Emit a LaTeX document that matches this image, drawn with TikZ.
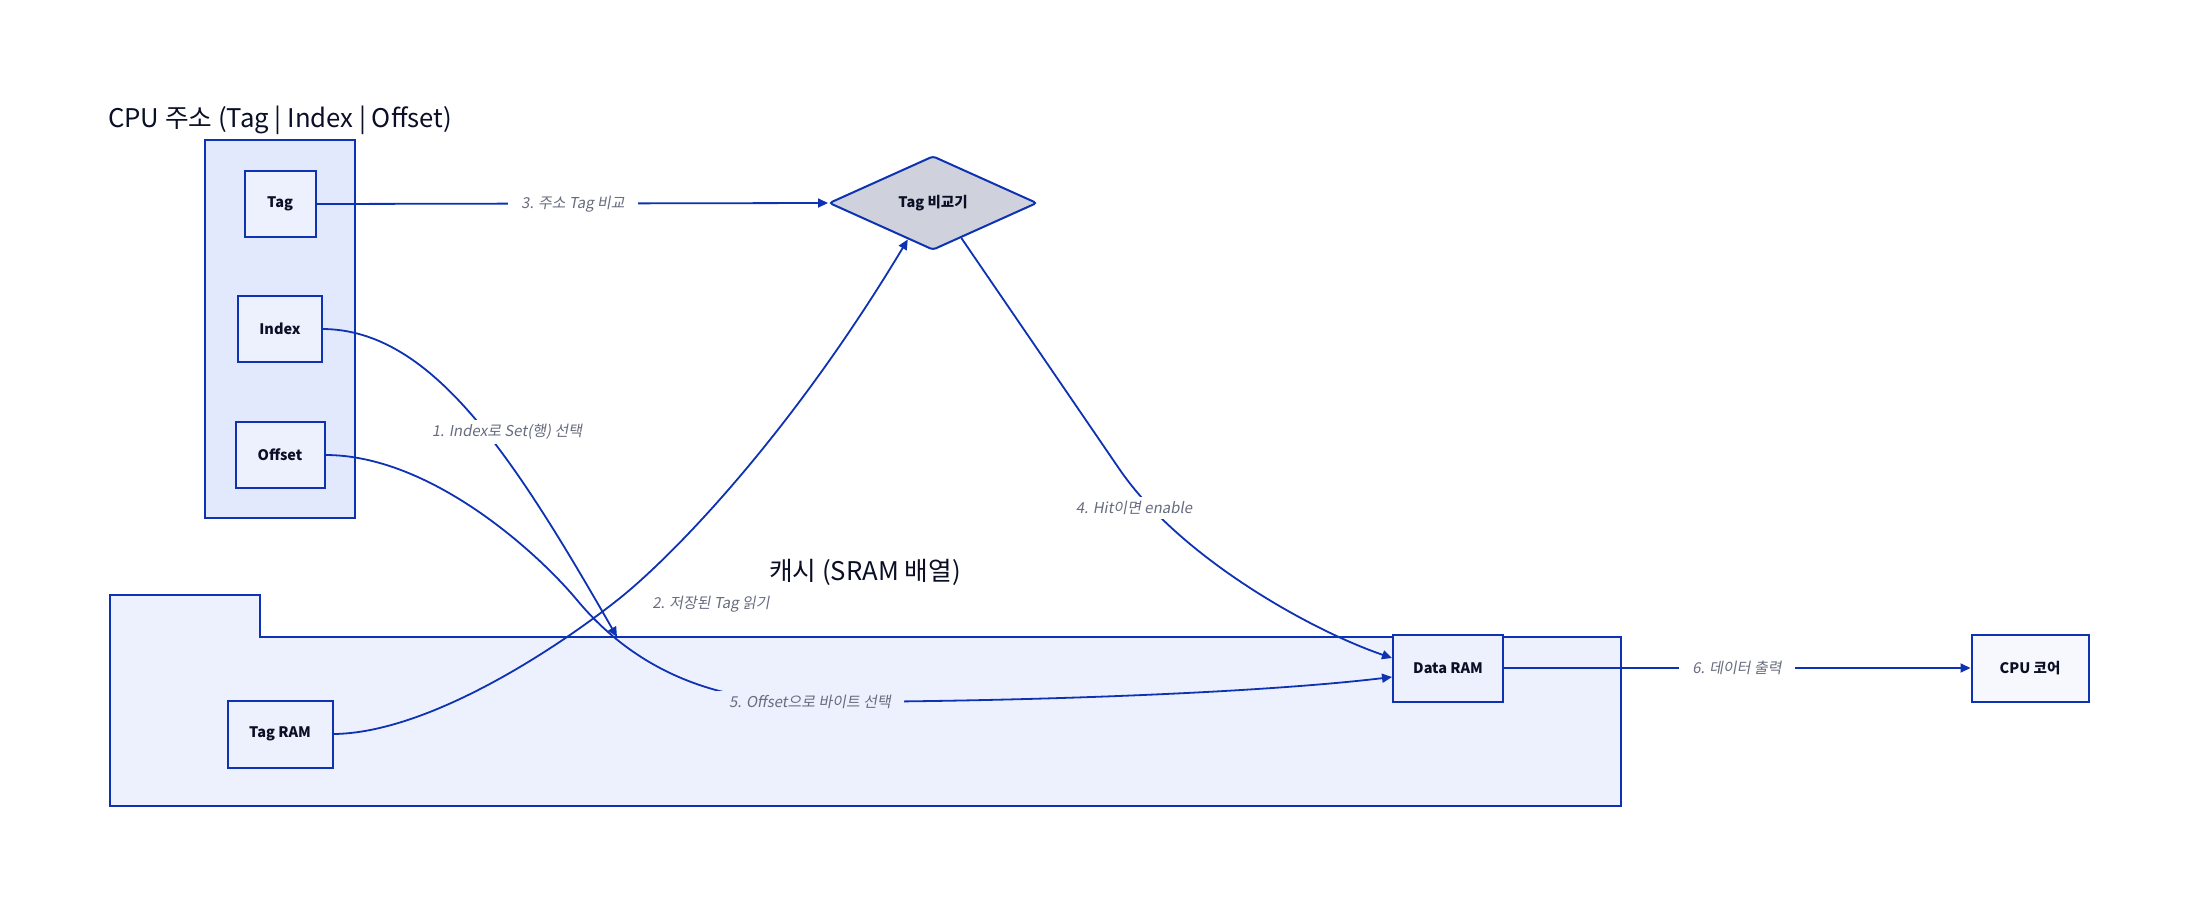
\documentclass[tikz,border=0pt]{standalone}
\usepackage{fontspec}
\setmainfont{Noto Sans CJK KR}
\newfontfamily\labfont{Noto Sans CJK KR}[FakeSlant=0.18]
\usetikzlibrary{shapes.geometric,arrows.meta,calc}
\definecolor{strokeb}{HTML}{0D32B2}
\definecolor{contA}{HTML}{E3E9FD}
\definecolor{contB}{HTML}{EDF0FD}
\definecolor{boxfill}{HTML}{EDF0FD}
\definecolor{corefill}{HTML}{F7F8FE}
\definecolor{diafill}{HTML}{CFD2DD}
\definecolor{labgray}{HTML}{676C7E}
\definecolor{txt}{HTML}{0A0F25}
\tikzset{
  box/.style={draw=strokeb, line width=2bp, fill=boxfill, inner sep=0pt, text=txt,
    font=\fontsize{14.5bp}{17bp}\selectfont\bfseries},
  cont/.style={draw=strokeb, line width=2bp},
  conn/.style={draw=strokeb, line width=1.8bp, -{Triangle[length=10bp,width=9bp]}},
  elab/.style={text=labgray, inner xsep=13bp, inner ysep=4bp, font=\labfont\fontsize{15bp}{18bp}\selectfont},
  ctitle/.style={text=txt, inner sep=0pt, font=\fontsize{25.7bp}{30bp}\selectfont},
}
\begin{document}
\begin{tikzpicture}[x=1bp,y=-1bp]
\useasboundingbox[fill=white] (0,0) rectangle (2191,908);
% containers
\draw[cont, fill=contA] (205,140) rectangle (355,518);
\node[ctitle] (cputitle) at (280,120) {CPU 주소 (Tag | Index | Offset)};
\draw[cont, fill=contB] (110,595) -- (260,595) -- (260,637) -- (1621,637) -- (1621,806) -- (110,806) -- cycle;
\node[ctitle] (cachetitle) at (865,572) {캐시 (SRAM 배열)};
\coordinate (cachetop) at (617,637);
% nodes
\node[box, minimum width=71bp, minimum height=66bp] (tag) at (280,204) {Tag};
\node[box, minimum width=84bp, minimum height=66bp] (idx) at (280,329) {Index};
\node[box, minimum width=89bp, minimum height=66bp] (off) at (280,455) {Offset};
\node[box, minimum width=105bp, minimum height=67bp] (tram) at (280,734) {Tag RAM};
\node[box, minimum width=110bp, minimum height=67bp] (dram) at (1448,668) {Data RAM};
\node[box, fill=corefill, minimum width=117bp, minimum height=67bp] (core) at (2030,668) {CPU 코어};
\node[box, fill=diafill, diamond, rounded corners=3bp, minimum width=208bp, minimum height=94bp] (dia) at (933,203) {Tag 비교기};
% edges
\draw[conn] (tag.east) -- (dia.west);
\draw[conn] (idx.east) .. controls (430,330) and (510,450) .. (cachetop);
\draw[conn] (tram.east) .. controls (430,733) and (560,646) .. (620,598)
   .. controls (670,558) and (788,439) .. ($(dia.south)!0.24!(dia.west)$);
\draw[conn] ($(dia.south)!0.27!(dia.east)$) -- (1120,470)
   .. controls (1180,557) and (1310,630) .. ([yshift=10bp]dram.west);
\draw[conn] (off.east) .. controls (430,455) and (537,552) .. (577,600)
   .. controls (627,660) and (700,702) .. (810,702)
   .. controls (1000,702) and (1250,694) .. ([yshift=-9bp]dram.west);
\draw[conn] (dram.east) -- (core.west);
% labels
\node[elab, fill=white] (l1) at (507,432) {1. Index로 Set(행) 선택};
\node[elab, fill=white] (l2) at (711,604) {2. 저장된 Tag 읽기};
\node[elab, fill=white] (l3) at (573,204) {3. 주소 Tag 비교};
\node[elab, fill=white] (l4) at (1134,508) {4. Hit이면 enable};
\node[elab, fill=contB] (l5) at (810,702) {5. Offset으로 바이트 선택};
\node[elab, fill=white] (l6) at (1737,668) {6. 데이터 출력};
\end{tikzpicture}
\end{document}
